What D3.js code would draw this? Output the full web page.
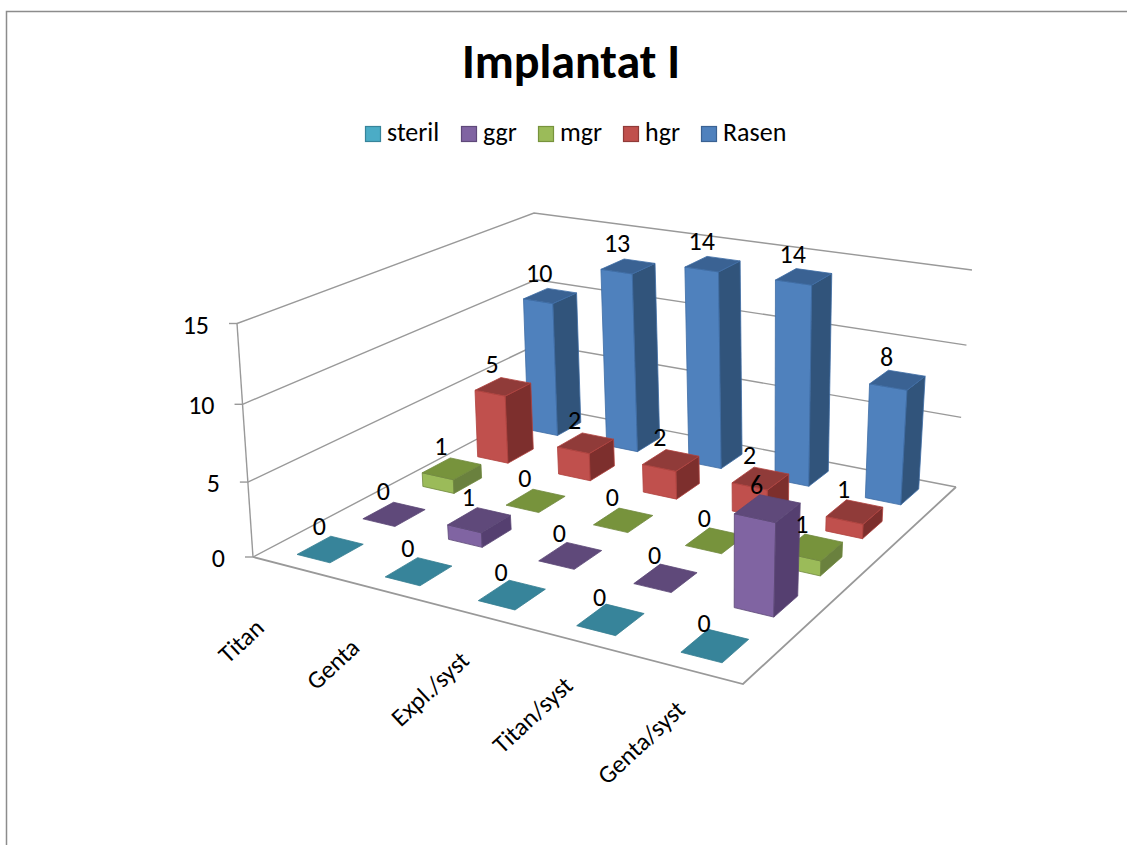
<!DOCTYPE html>
<html>
<head>
<meta charset="utf-8">
<script src="https://cdn.jsdelivr.net/npm/d3@7"></script>
<style>
html, body { margin: 0; padding: 0; background: #fff; }
svg { display: block; }
text { font-family: "Carlito", "Open Sans", "Noto Sans", sans-serif; fill: #000; }
</style>
</head>
<body>
<svg id="chart" width="1127" height="845"></svg>
<script>
'use strict';

var categories = ['Titan', 'Genta', 'Expl./syst', 'Titan/syst', 'Genta/syst'];
var seriesNames = ['steril', 'ggr', 'mgr', 'hgr', 'Rasen'];
var steril = [0, 0, 0, 0, 0];
var ggr = [0, 1, 0, 0, 6];
var mgr = [1, 0, 0, 0, 1];
var hgr = [5, 2, 2, 2, 1];
var rasen = [10, 13, 14, 14, 8];
var seriesValues = [steril, ggr, mgr, hgr, rasen];
var yTicks = [0, 5, 10, 15];

// front, side, top, edge
var colors = [
	['#4bacc6', '#2f7d92', '#37849a', '#357d91'],
	['#8064a2', '#553f70', '#5f497a', '#5c4776'],
	['#9bbb59', '#6a813e', '#77933c', '#71893f'],
	['#c0504d', '#7d2f2d', '#903b39', '#b0413e'],
	['#4f81bd', '#31547b', '#3a6293', '#3d6ca5']
];

var svg = d3.select('#chart');

// floor and ceiling corners of the box on the page: front-left, front-right, back-right, back-left
var floorCorners = [[253, 557], [743, 684], [956, 487], [540, 406]];
var topCorners = [[237, 323.5], [746, 428], [972, 270], [534, 213]];

// unit square to quad
function homography(q) {
	var dx1 = q[1][0] - q[2][0], dx2 = q[3][0] - q[2][0], sx = q[0][0] - q[1][0] + q[2][0] - q[3][0];
	var dy1 = q[1][1] - q[2][1], dy2 = q[3][1] - q[2][1], sy = q[0][1] - q[1][1] + q[2][1] - q[3][1];
	var det = dx1 * dy2 - dx2 * dy1;
	var g = (sx * dy2 - dx2 * sy) / det;
	var h = (dx1 * sy - sx * dy1) / det;
	var a = q[1][0] - q[0][0] + g * q[1][0], b = q[3][0] - q[0][0] + h * q[3][0], c = q[0][0];
	var d = q[1][1] - q[0][1] + g * q[1][1], e = q[3][1] - q[0][1] + h * q[3][1], f = q[0][1];
	return function(u, v) {
		var w = g * u + h * v + 1;
		return [(a * u + b * v + c) / w, (d * u + e * v + f) / w];
	};
}

var floorAt = homography(floorCorners);
var topAt = homography(topCorners);

var xBand = d3.scaleBand().domain(categories).range([0, 1]).paddingInner(0.62).paddingOuter(0.31);
var zBand = d3.scaleBand().domain(seriesNames).range([0, 1]).paddingInner(0.5).paddingOuter(0.25);
var yScale = d3.scaleLinear().domain([0, 15]).range([0, 1]);
var labelShift = d3.scaleLinear().domain([0, 1]).range([-56, -45]);

// upper gridlines sit a little further apart, the box leans towards the viewer
var lean = 0.945;

function project(u, v, value) {
	var p0 = floorAt(u, v);
	var p1 = topAt(u, v);
	var s = yScale(value);
	var t = lean * s / (1 + (lean - 1) * s);
	return [p0[0] + (p1[0] - p0[0]) * t, p0[1] + (p1[1] - p0[1]) * t];
}

var line = d3.line();
var gridColor = '#999';

// frame
svg.append('path')
	.attr('d', 'M6.5,845V11.5H1127')
	.attr('fill', 'none')
	.attr('stroke', '#8c8c8c')
	.attr('stroke-width', 1.5);

// title
svg.append('text')
	.attr('x', 571)
	.attr('y', 78)
	.attr('text-anchor', 'middle')
	.style('font-size', '48px')
	.style('font-weight', 'bold')
	.text('Implantat I');

// legend
var legendX = [365, 461, 538, 623, 701];
seriesNames.forEach(function(name, i) {
	svg.append('rect')
		.attr('x', legendX[i] + 0.5)
		.attr('y', 126.5)
		.attr('width', 15)
		.attr('height', 15)
		.attr('fill', colors[i][0])
		.attr('stroke', colors[i][2])
		.attr('stroke-width', 1.2);
	svg.append('text')
		.attr('x', legendX[i] + 22)
		.attr('y', 141)
		.style('font-size', '26px')
		.text(name);
});

// walls
yTicks.forEach(function(tick) {
	svg.append('path')
		.attr('d', line([project(0, 0, tick), project(0, 1, tick), project(1, 1, tick)]))
		.attr('fill', 'none')
		.attr('stroke', gridColor)
		.attr('stroke-width', 1.4);
});

// floor edges and value axis
svg.append('path')
	.attr('d', line([project(0, 0, 0), project(1, 0, 0), project(1, 1, 0)]))
	.attr('fill', 'none')
	.attr('stroke', gridColor)
	.attr('stroke-width', 1.8);
svg.append('path')
	.attr('d', line([project(0, 0, 0), project(0, 0, 15)]))
	.attr('fill', 'none')
	.attr('stroke', gridColor)
	.attr('stroke-width', 1.4);

yTicks.forEach(function(tick) {
	var p = project(0, 0, tick);
	svg.append('path')
		.attr('d', line([[p[0] - 8, p[1]], p]))
		.attr('stroke', gridColor)
		.attr('stroke-width', 1.4);
	svg.append('text')
		.attr('x', p[0] - 28)
		.attr('y', p[1] + 10)
		.attr('text-anchor', 'end')
		.style('font-size', '26px')
		.text(tick);
});

// category labels, centred on their own middle
categories.forEach(function(name) {
	var u = xBand(name) + xBand.bandwidth() / 2;
	var p = project(u, 0, 0);
	svg.append('text')
		.attr('transform', 'translate(' + (p[0] + labelShift(u)) + ',' + (p[1] + 73) + ') rotate(-43)')
		.attr('text-anchor', 'middle')
		.attr('dy', '.33em')
		.style('font-size', '25px')
		.text(name);
});

function drawBar(j, i) {
	var value = seriesValues[j][i];
	var u0 = xBand(categories[i]), u1 = u0 + xBand.bandwidth();
	var v0 = zBand(seriesNames[j]), v1 = v0 + zBand.bandwidth();
	var c = colors[j];
	var g = svg.append('g');

	function face(points, fill) {
		g.append('path')
			.attr('d', line(points) + 'Z')
			.attr('fill', fill)
			.attr('stroke', c[3])
			.attr('stroke-width', 0.8)
			.attr('stroke-linejoin', 'round');
	}

	if (value > 0) {
		face([project(u0, v0, 0), project(u1, v0, 0), project(u1, v0, value), project(u0, v0, value)], c[0]);
		face([project(u1, v0, 0), project(u1, v1, 0), project(u1, v1, value), project(u1, v0, value)], c[1]);
	}
	face([project(u0, v0, value), project(u1, v0, value), project(u1, v1, value), project(u0, v1, value)], c[2]);
}

function drawLabel(j, i) {
	var value = seriesValues[j][i];
	var u = xBand(categories[i]) + xBand.bandwidth() / 2;
	var v = zBand(seriesNames[j]) + zBand.bandwidth() / 2;
	var p = project(u, v, value);
	svg.append('text')
		.attr('x', p[0] - 11)
		.attr('y', p[1] - 14)
		.attr('text-anchor', 'middle')
		.style('font-size', '26px')
		.text(value);
}

// back series first so nearer bars cover the ones behind
d3.range(seriesNames.length - 1, -1, -1).forEach(function(j) {
	d3.range(categories.length).forEach(function(i) {
		drawBar(j, i);
	});
});
d3.range(seriesNames.length - 1, -1, -1).forEach(function(j) {
	d3.range(categories.length).forEach(function(i) {
		drawLabel(j, i);
	});
});
</script>
</body>
</html>
